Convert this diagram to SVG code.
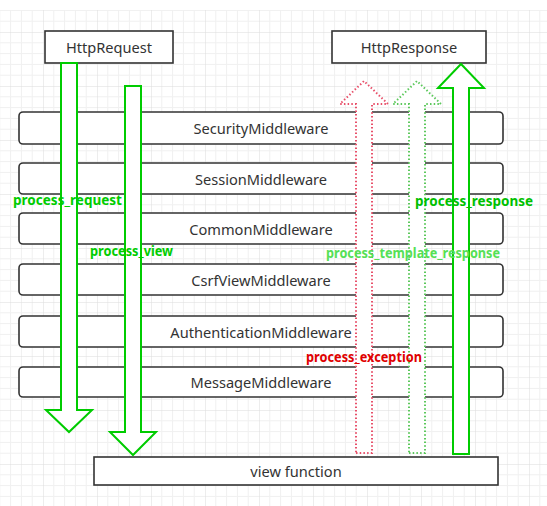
<svg xmlns="http://www.w3.org/2000/svg" width="547" height="506" viewBox="0 0 547 506">
<style>
.box{fill:#fff;stroke:#333;stroke-width:1.6}
.mw{fill:#fff;stroke:#333;stroke-width:1.6}
.t{font-family:"Noto Sans","Liberation Sans",sans-serif;font-size:14.6px;fill:#333;text-anchor:middle;dominant-baseline:central}
.arr{fill:#fff;stroke:#00cc00;stroke-width:2;stroke-linejoin:miter}
.dotr{fill:#fff;stroke:#e8506a;stroke-width:2;stroke-dasharray:1.5 2.2}
.dotg{fill:#fff;stroke:#5cc85c;stroke-width:2;stroke-dasharray:1.5 2.2}
.lbl{font-family:"Noto Sans","Liberation Sans",sans-serif;font-size:13.3px;font-weight:bold}
</style>
<defs>
<pattern id="grid" patternUnits="userSpaceOnUse" x="43" y="32" width="54" height="54">
<path d="M10.8 0V54M21.6 0V54M32.4 0V54M43.2 0V54M0 10.8H54M0 21.6H54M0 32.4H54M0 43.2H54" stroke="#f0f0f0" stroke-width="1" fill="none"/>
<path d="M0 0V54M0 0H54" stroke="#dcdcdc" stroke-width="1" fill="none"/>
</pattern>
</defs>
<rect x="0" y="0" width="547" height="506" fill="#fff"/>
<rect x="0" y="10" width="547" height="496" fill="url(#grid)"/>

<g id="SecurityMiddleware"><rect class="mw" x="19" y="112" width="484" height="32" rx="4"/><text class="t" x="261" y="128">SecurityMiddleware</text></g>
<g id="SessionMiddleware"><rect class="mw" x="19" y="163" width="484" height="31" rx="4"/><text class="t" x="261" y="178.5">SessionMiddleware</text></g>
<g id="CommonMiddleware"><rect class="mw" x="19" y="213" width="484" height="31" rx="4"/><text class="t" x="261" y="228.5">CommonMiddleware</text></g>
<g id="CsrfViewMiddleware"><rect class="mw" x="19" y="264" width="484" height="31" rx="4"/><text class="t" x="261" y="279.5">CsrfViewMiddleware</text></g>
<g id="AuthenticationMiddleware"><rect class="mw" x="19" y="316" width="484" height="31" rx="4"/><text class="t" x="261" y="331.5">AuthenticationMiddleware</text></g>
<g id="MessageMiddleware"><rect class="mw" x="19" y="367" width="484" height="30" rx="4"/><text class="t" x="261" y="382">MessageMiddleware</text></g>
<g id="ViewFunction"><rect class="box" x="94" y="457" width="404" height="28"/><text class="t" x="296" y="471">view function</text></g>
<g id="HttpRequest"><rect class="box" x="45" y="31" width="128" height="32"/><text class="t" x="109" y="47">HttpRequest</text></g>
<g id="HttpResponse"><rect class="box" x="332" y="31" width="154" height="32"/><text class="t" x="409" y="47">HttpResponse</text></g>

<g id="connectors">
<polygon class="arr" points="61,63 77,63 77,410 92,410 69,432 46,410 61,410"/>
<polygon class="arr" points="125,86 141,86 141,432 156,432 133,455 110,432 125,432"/>
<polygon class="arr" points="453,454 469,454 469,88 484,88 461,64 438,88 453,88"/>
<polygon class="dotr" points="356,453 372,453 372,104 388,104 364,81 340,104 356,104"/>
<polygon class="dotg" points="409,453 425,453 425,104 441,104 417,81 393,104 409,104"/>
<text class="lbl" x="13" y="205" fill="#00cc00" textLength="109" lengthAdjust="spacingAndGlyphs">process_request</text>
<text class="lbl" x="90" y="256" fill="#00cc00" textLength="83" lengthAdjust="spacingAndGlyphs">process_view</text>
<text class="lbl" x="415" y="206" fill="#00c000" textLength="118" lengthAdjust="spacingAndGlyphs">process_response</text>
<text class="lbl" x="326" y="258" fill="#55e055" textLength="174" lengthAdjust="spacingAndGlyphs">process_template_response</text>
<text class="lbl" x="306" y="362" fill="#e00000" textLength="116" lengthAdjust="spacingAndGlyphs">process_exception</text>
</g>
</svg>
